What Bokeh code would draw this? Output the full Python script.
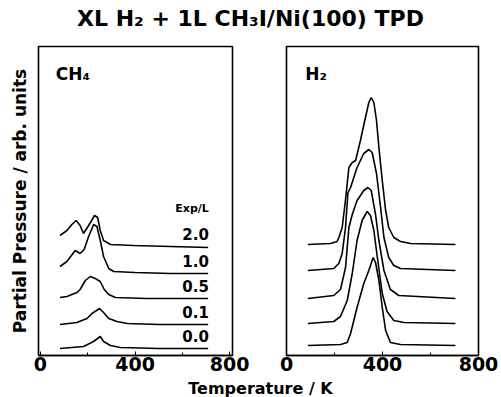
from bokeh.plotting import figure
from bokeh.layouts import column, row
from bokeh.models import Range1d, FixedTicker
from bokeh.embed import file_html
from bokeh.resources import INLINE
from bokeh.core.properties import value

FONT = "DejaVu Sans"

title_text = "XL H₂ + 1L CH₃I/Ni(100) TPD"
xlabel_text = "Temperature / K"
ylabel_text = "Partial Pressure / arb. units"
x_ticks = [0, 400, 800]
exposures = ["2.0", "1.0", "0.5", "0.1", "0.0"]

# vertical stacking offsets (arb. units)
ch4_offsets = [109, 82, 57, 31, 7]
h2_offsets = [111, 85, 57, 32, 10]

# CH4 traces (temperature K, signal above own baseline)
ch4_20_T = [83, 112, 133, 151, 168, 182, 204, 229, 242, 253, 267, 296, 395, 550, 709]
ch4_20_I = [11, 16, 22, 26, 21, 13, 21, 31, 29, 16, 6, 2, 1, 0, -1]
ch4_10_T = [83, 112, 147, 168, 185, 204, 225, 239, 253, 267, 289, 310, 400, 550, 709]
ch4_10_I = [7, 12, 23, 20, 24, 37, 49, 47, 33, 17, 5, 2, 1, 0, 0]
ch4_05_T = [83, 112, 133, 155, 168, 190, 211, 232, 253, 270, 289, 317, 450, 709]
ch4_05_I = [1, 2, 4, 6, 9, 18, 22, 20, 17, 9, 4, 1, 0, 0]
ch4_01_T = [83, 154, 197, 218, 250, 267, 289, 324, 367, 500, 709]
ch4_01_I = [0, 2, 6, 11, 16, 12, 6, 3, 1, 0, 0]
ch4_00_T = [83, 182, 225, 253, 267, 296, 338, 500, 709]
ch4_00_I = [0, 2, 7, 12, 7, 3, 1, 0, 0]

# H2 traces
h2_20_T = [89, 183, 211, 218, 232, 246, 260, 274, 288, 308, 329, 343, 353, 364, 375, 385, 399, 413, 426, 447, 475, 517, 704]
h2_20_I = [0, 1, 3, 7, 17, 45, 77, 82, 84, 104, 127, 142, 147, 142, 124, 97, 64, 34, 17, 7, 3, 1, 0]
h2_10_T = [89, 197, 218, 232, 246, 256, 267, 294, 322, 343, 357, 375, 392, 406, 426, 447, 475, 704]
h2_10_I = [0, 2, 7, 17, 43, 78, 83, 103, 117, 121, 118, 97, 63, 33, 13, 5, 2, 0]
h2_05_T = [89, 197, 225, 246, 260, 274, 294, 322, 339, 353, 371, 385, 406, 433, 468, 704]
h2_05_I = [0, 3, 9, 31, 71, 84, 98, 108, 111, 108, 84, 58, 28, 9, 3, 0]
h2_01_T = [89, 197, 225, 253, 274, 294, 315, 336, 350, 364, 378, 399, 419, 447, 489, 704]
h2_01_I = [0, 2, 7, 23, 50, 83, 103, 112, 108, 93, 67, 30, 12, 3, 1, 0]
h2_00_T = [89, 225, 253, 267, 294, 322, 343, 361, 371, 385, 399, 413, 433, 475, 704]
h2_00_I = [0, 1, 3, 12, 38, 62, 75, 88, 83, 65, 38, 15, 3, 1, 0]

ch4_T = [ch4_20_T, ch4_10_T, ch4_05_T, ch4_01_T, ch4_00_T]
ch4_I = [ch4_20_I, ch4_10_I, ch4_05_I, ch4_01_I, ch4_00_I]
h2_T = [h2_20_T, h2_10_T, h2_05_T, h2_01_T, h2_00_T]
h2_I = [h2_20_I, h2_10_I, h2_05_I, h2_01_I, h2_00_I]


def text_fig(w, h):
    f = figure(width=w, height=h, x_range=Range1d(0, w), y_range=Range1d(0, h),
               toolbar_location=None, output_backend="svg",
               x_axis_location=None, y_axis_location=None, min_border=0)
    f.grid.visible = False
    f.outline_line_color = None
    return f


def style_panel(p):
    p.grid.visible = False
    p.outline_line_color = "black"
    p.outline_line_width = 1.6
    xa = p.xaxis[0]
    xa.ticker = FixedTicker(ticks=x_ticks, minor_ticks=[200, 600])
    xa.major_tick_in = 4
    xa.major_tick_out = 0
    xa.minor_tick_in = 3
    xa.minor_tick_out = 0
    xa.axis_line_color = "black"
    xa.axis_line_width = 1.6
    xa.major_label_standoff = 1
    xa.major_label_text_font = FONT
    xa.major_label_text_font_style = "bold"
    xa.major_label_text_font_size = "19px"
    xa.major_label_text_color = "black"


# title
t = text_fig(501, 40)
t.text(x=[250], y=[22], text=[title_text], text_font=value(FONT), text_font_style="bold",
       text_font_size="22px", text_align="center", text_baseline="middle", text_color="black")

# left panel: CH4
pl = figure(width=259, height=338, x_range=Range1d(-8, 812), y_range=Range1d(0, 309),
            toolbar_location=None, output_backend="svg",
            min_border_left=38, min_border_right=27, min_border_top=6, min_border_bottom=23)
style_panel(pl)
ya = pl.yaxis[0]
ya.ticker = FixedTicker(ticks=[])
ya.major_tick_out = 0
ya.minor_tick_out = 0
ya.axis_line_color = None
ya.major_label_standoff = 0
ya.axis_label = ylabel_text
ya.axis_label_text_font = FONT
ya.axis_label_text_font_style = "bold"
ya.axis_label_text_font_size = "17px"
ya.axis_label_text_color = "black"
ya.axis_label_standoff = 9

for Ts, Is, off in zip(ch4_T, ch4_I, ch4_offsets):
    pl.line(Ts, [off + v for v in Is], line_color="black", line_width=1.6)

pl.text(x=[712] * len(exposures), y=[o + 13 for o in ch4_offsets], text=exposures,
        text_font=value(FONT), text_font_style="bold", text_font_size="15px",
        text_align="right", text_baseline="middle", text_color="black")
pl.text(x=[712], y=[ch4_offsets[0] + 38], text=["Exp/L"],
        text_font=value(FONT), text_font_style="bold", text_font_size="11px",
        text_align="right", text_baseline="middle", text_color="black")
pl.text(x=[65], y=[282], text=["CH₄"], text_font=value(FONT), text_font_style="bold",
        text_font_size="17px", text_align="left", text_baseline="middle", text_color="black")

# right panel: H2
pr = figure(width=242, height=338, x_range=Range1d(0, 800), y_range=Range1d(0, 309),
            toolbar_location=None, output_backend="svg", y_axis_location=None,
            min_border_left=27, min_border_right=23, min_border_top=6, min_border_bottom=23)
style_panel(pr)
for Ts, Is, off in zip(h2_T, h2_I, h2_offsets):
    pr.line(Ts, [off + v for v in Is], line_color="black", line_width=1.6)
pr.text(x=[78], y=[282], text=["H₂"], text_font=value(FONT), text_font_style="bold",
        text_font_size="17px", text_align="left", text_baseline="middle", text_color="black")

# x label
b = text_fig(501, 19)
b.text(x=[260], y=[9.5], text=[xlabel_text], text_font=value(FONT), text_font_style="bold",
       text_font_size="16px", text_align="center", text_baseline="middle", text_color="black")

layout = column(t, row(pl, pr), b)
open("out.html", "w").write(file_html(layout, INLINE))
